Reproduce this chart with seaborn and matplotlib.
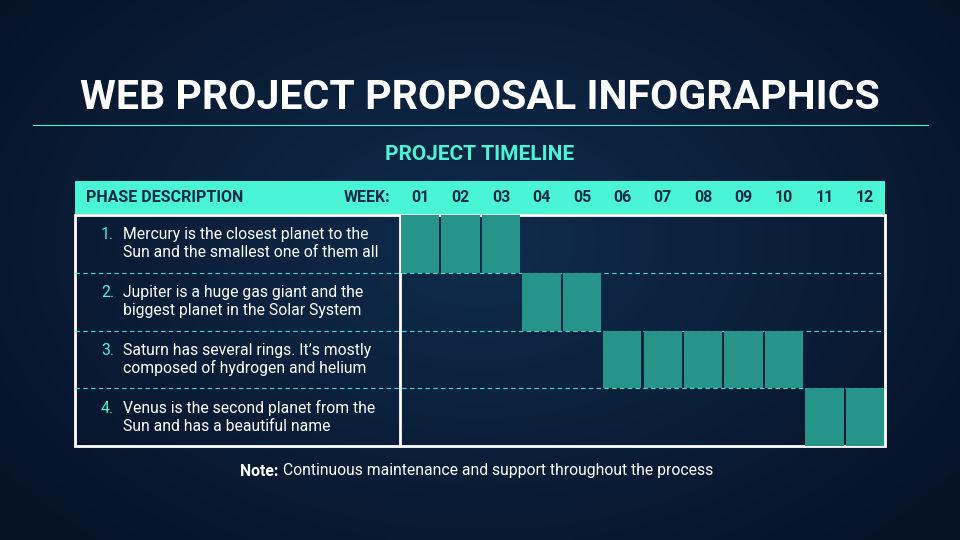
import numpy as np
import matplotlib
matplotlib.use("Agg")
import matplotlib.pyplot as plt
import seaborn as sns
from matplotlib.patches import Rectangle

sns.set_theme(style="white")
plt.rcParams['font.family'] = ['Roboto', 'DejaVu Sans']

title = "WEB PROJECT PROPOSAL INFOGRAPHICS"
subtitle = "PROJECT TIMELINE"
weeks = ["01", "02", "03", "04", "05", "06", "07", "08", "09", "10", "11", "12"]
phases = [
    "Mercury is the closest planet to the\nSun and the smallest one of them all",
    "Jupiter is a huge gas giant and the\nbiggest planet in the Solar System",
    "Saturn has several rings. It\u2019s mostly\ncomposed of hydrogen and helium",
    "Venus is the second planet from the\nSun and has a beautiful name",
]
phase_start = [1, 4, 6, 11]
phase_end = [3, 5, 10, 12]

TEAL = "#4AF5D6"
BAR = "#269488"
DARK = "#0D2B45"

W, H = 960, 540
fig = plt.figure(figsize=(9.6, 5.4), dpi=100)

bg = fig.add_axes([0, 0, 1, 1])
yy, xx = np.mgrid[0:1:200j, 0:1:360j]
r = np.sqrt(((xx - 0.5) * 1.2) ** 2 + ((yy - 0.45)) ** 2)
img = np.clip(1 - r * 1.3, 0, 1)
c0 = np.array([0x06, 0x12, 0x26]) / 255
c1 = np.array([0x10, 0x2c, 0x4d]) / 255
rgb = c0[None, None, :] + (c1 - c0)[None, None, :] * img[..., None]
bg.imshow(rgb, aspect="auto", extent=[0, W, H, 0])
bg.set_xlim(0, W); bg.set_ylim(H, 0); bg.axis("off")

def px(x, y):
    return x / W, 1 - y / H

fig.text(*px(480, 98), title, ha="center", va="center", color="white",
         fontsize=29.5, fontweight="bold")
bg.plot([33, 928], [125, 125], color=TEAL, lw=0.8)
fig.text(*px(480, 155), subtitle, ha="center", va="center", color=TEAL,
         fontsize=15, fontweight="bold")

bg.add_patch(Rectangle((75, 181), 810, 33, color=TEAL, lw=0))
fig.text(*px(86, 197), "PHASE DESCRIPTION", ha="left", va="center",
         color=DARK, fontsize=11.5, fontweight="bold")
fig.text(*px(390, 197), "WEEK:", ha="right", va="center",
         color=DARK, fontsize=11.5, fontweight="bold")

top, bot, left, right = 215, 446, 400, 885
ax = fig.add_axes([left / W, 1 - bot / H, (right - left) / W, (bot - top) / H])
ax.set_facecolor("none")
for i, (s, e) in enumerate(zip(phase_start, phase_end)):
    wk = np.arange(s, e + 1)
    ax.bar(wk - 0.5, 1, width=0.95, bottom=i, color=BAR, lw=0)
ax.set_xlim(0, 12)
ax.set_ylim(len(phases), 0)
ax.axis("off")
for j, w in enumerate(weeks):
    ax.text(j + 0.5, 1 + 18 / (bot - top), w, transform=ax.get_xaxis_transform(),
            ha="center", va="center", color=DARK, fontsize=11.5, fontweight="bold")

row_h = (bot - top) / len(phases)
for i, p in enumerate(phases):
    yc = top + row_h * (i + 0.5)
    fig.text(*px(114, yc - 9), f"{i + 1}.", ha="right", va="center",
             color=TEAL, fontsize=11.3)
    l1, l2 = p.split("\n")
    fig.text(*px(123, yc - 9), l1, ha="left", va="center", color="white", fontsize=11.3)
    fig.text(*px(123, yc + 9), l2, ha="left", va="center", color="white", fontsize=11.3)
    if i > 0:
        yb = top + row_h * i
        bg.plot([75, 885], [yb, yb], color=TEAL, lw=0.8, ls=(0, (4, 3)), alpha=0.9)

bg.add_patch(Rectangle((75, top), 810, bot - top, fill=False, ec="white", lw=2))
bg.plot([400, 400], [top, bot], color="white", lw=2)

fig.text(*px(240, 471), "Note:", ha="left", va="center", color="white",
         fontsize=11.3, fontweight="bold")
fig.text(*px(283, 471), "Continuous maintenance and support throughout the process",
         ha="left", va="center", color="white", fontsize=11.3)

fig.savefig("out.png", dpi=100)
